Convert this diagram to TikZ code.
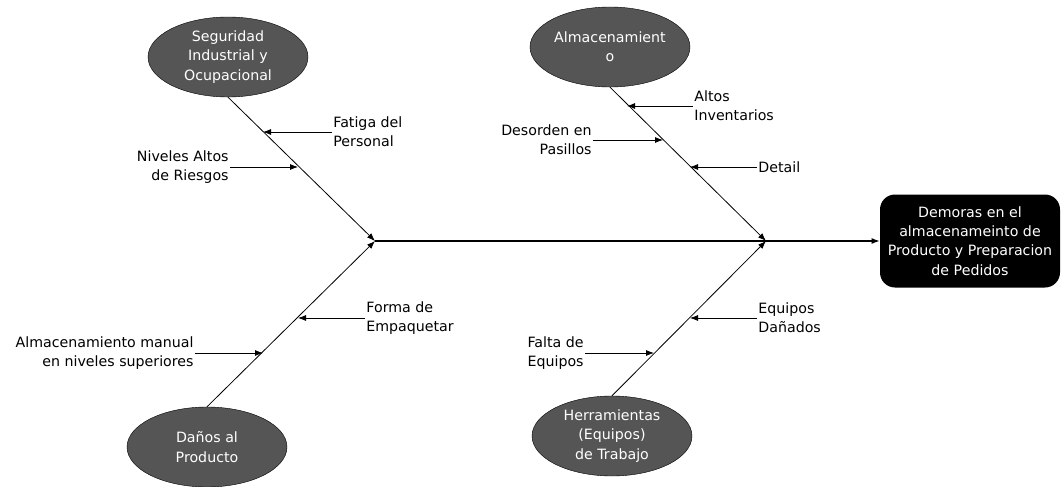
\documentclass[tikz,border=0pt]{standalone}
\usepackage{fontspec}
\setmainfont{DejaVu Sans}
\usetikzlibrary{arrows.meta,shapes}

\definecolor{catgray}{RGB}{85,85,85}

\begin{document}
\begin{tikzpicture}[
            > = {Latex[length=8pt,width=6pt]}, % arrow head style
            x = 1pt, y = -1pt, % pixel units, y going down
            line width = 0.8pt, % line style
            font = \fontsize{14.2}{19.2}\selectfont
        ]

        \tikzstyle{categoria}=[
            ellipse,
            draw = black,
            thin,
            fill = catgray,
            text = white,
            align = center,
            inner sep = 0pt,
            minimum width = 160pt,
            minimum height = 80pt
        ]
        \tikzstyle{efecto}=[
            rectangle,
            rounded corners = 15pt,
            fill = black,
            text = white,
            align = center,
            minimum width = 180pt,
            minimum height = 93pt
        ]
        \tikzstyle{causa}=[inner sep = 1pt]

        \useasboundingbox (0,0) rectangle (1061,487);

        % categories and effect
        \node[categoria] (seg) at (228,57) {Seguridad\\Industrial y\\Ocupacional};
        \node[categoria] (alm) at (610,47) {Almacenamient\\o};
        \node[categoria] (dan) at (207,447) {Daños al\\Producto};
        \node[categoria] (her) at (612,436) {Herramientas\\(Equipos)\\de Trabajo};
        \node[efecto] (dem) at (970,241) {Demoras en el\\almacenameinto de\\Producto y Preparacion\\de Pedidos};

        \coordinate (j1) at (375,241);
        \coordinate (j2) at (766,241);

        % spine and bones
        \draw[->, line width = 1.1pt] (j1) -- (dem);
        \draw[->] (seg.south) -- (j1);
        \draw[->] (dan.north) -- (j1);
        \draw[->] (alm.south) -- (j2);
        \draw[->] (her.north) -- (j2);

        % causes
        \node[causa, anchor = west, align = left] (c1) at (332,132) {Fatiga del\\Personal};
        \node[causa, anchor = east, align = right] (c2) at (230,167) {Niveles Altos\\de Riesgos};
        \node[causa, anchor = west, align = left] (c3) at (693,106) {Altos\\Inventarios};
        \node[causa, anchor = east, align = right] (c4) at (593,140) {Desorden en\\Pasillos};
        \node[causa, anchor = west, align = left] (c5) at (757,167) {Detail};
        \node[causa, anchor = west, align = left] (c6) at (365,318) {Forma de\\Empaquetar};
        \node[causa, anchor = east, align = right] (c7) at (195,353) {Almacenamiento manual\\en niveles superiores};
        \node[causa, anchor = west, align = left] (c8) at (757,318) {Equipos\\Dañados};
        \node[causa, anchor = east, align = right] (c9) at (585,353) {Falta de\\Equipos};

        \coordinate (t1) at (263,132);
        \coordinate (t2) at (298,167);
        \coordinate (t3) at (627,106);
        \coordinate (t4) at (663,140);
        \coordinate (t5) at (690,167);
        \coordinate (t6) at (298,318);
        \coordinate (t7) at (263,353);
        \coordinate (t8) at (690,318);
        \coordinate (t9) at (654,353);

        \draw[->] (c1.west) -- (t1);
        \draw[->] (c2.east) -- (t2);
        \draw[->] (c3.west) -- (t3);
        \draw[->] (c4.east) -- (t4);
        \draw[->] (c5.west) -- (t5);
        \draw[->] (c6.west) -- (t6);
        \draw[->] (c7.east) -- (t7);
        \draw[->] (c8.west) -- (t8);
        \draw[->] (c9.east) -- (t9);

    \end{tikzpicture}
\end{document}
